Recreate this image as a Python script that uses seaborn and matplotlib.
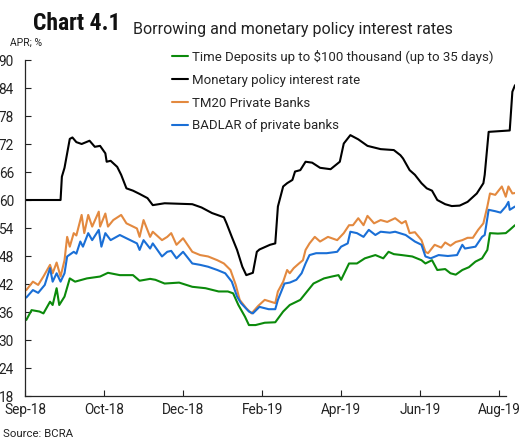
import pandas as pd
import numpy as np
import matplotlib
matplotlib.use("Agg")
import matplotlib.pyplot as plt
import matplotlib.dates as mdates
from matplotlib import font_manager
import seaborn as sns

# days counted from 2018-09-01, values in % APR
START = pd.Timestamp("2018-09-01")

policy_days = [0, 27, 28, 30, 34, 36, 39, 43, 49, 53, 57, 61, 62, 65, 70, 73, 77, 82, 87, 93,
               97, 106, 127, 134, 142, 151, 153, 157, 161, 165, 168, 173, 176, 178, 186, 190,
               192, 196, 199, 203, 205, 209, 213, 218, 224, 232, 239, 242, 247, 253, 260, 270,
               280, 285, 287, 292, 296, 301, 305, 309, 313, 319, 324, 330, 336, 343, 348, 349,
               352, 368, 370, 372]
policy_rate = [60, 60, 65.0, 66.9, 73.1, 73.4, 72.4, 72.0, 72.7, 71.4, 71.6, 70.0, 68.2, 68.4,
               67.1, 65.4, 62.5, 62.0, 61.3, 60.4, 58.9, 59.3, 59.1, 58.4, 57.2, 56.3, 55.0,
               52.1, 49.3, 45.7, 43.9, 44.4, 48.9, 49.4, 50.4, 50.7, 58.6, 62.9, 63.6, 64.3,
               66.1, 66.4, 68.2, 68.0, 66.9, 66.6, 68.2, 72.1, 73.9, 73.0, 71.6, 70.9, 70.7,
               69.6, 68.9, 66.4, 65.4, 63.6, 62.5, 62.0, 60.0, 59.1, 58.7, 58.8, 59.6, 61.4,
               63.6, 65.4, 74.6, 74.9, 83.2, 84.6]

tm20_days = [1, 6, 10, 14, 19, 21, 24, 27, 30, 32, 34, 37, 39, 43, 45, 48, 51, 56, 57, 61, 63,
             67, 73, 77, 85, 87, 90, 95, 97, 104, 108, 111, 115, 120, 127, 133, 139, 146, 151,
             156, 160, 163, 168, 172, 177, 182, 190, 192, 196, 199, 201, 204, 208, 211, 213,
             216, 220, 224, 230, 237, 242, 246, 249, 253, 257, 260, 265, 270, 275, 281, 286,
             289, 292, 296, 301, 304, 306, 311, 316, 319, 323, 327, 332, 336, 340, 344, 348,
             351, 353, 357, 362, 365, 367, 370, 372]
tm20_rate = [40.7, 42.5, 41.8, 43.6, 46.1, 44.3, 46.6, 43.6, 47.1, 52.1, 50.0, 52.9, 52.4,
             56.8, 52.9, 56.8, 54.3, 57.5, 54.3, 57.1, 54.3, 55.7, 56.8, 55.0, 53.9, 52.1,
             55.7, 52.1, 53.2, 51.4, 52.1, 52.9, 50.4, 51.8, 48.9, 48.2, 47.9, 47.1, 46.4,
             45.0, 41.8, 38.6, 36.8, 35.7, 37.3, 38.6, 37.9, 40.4, 42.5, 45.0, 44.3, 45.4,
             46.4, 47.1, 49.3, 50.7, 52.1, 51.1, 52.1, 51.4, 52.9, 54.6, 54.6, 56.1, 54.6,
             56.6, 55.0, 55.7, 55.3, 56.1, 55.0, 55.5, 52.9, 53.1, 51.4, 48.9, 48.6, 50.4,
             49.8, 50.9, 50.2, 51.0, 51.4, 51.9, 51.9, 53.6, 55.0, 58.6, 61.4, 61.1, 62.9,
             60.7, 62.9, 61.4, 61.5]

badlar_days = [1, 6, 10, 15, 19, 21, 24, 27, 30, 32, 37, 39, 42, 44, 48, 51, 56, 58, 61, 65,
               72, 77, 85, 87, 90, 95, 97, 104, 108, 111, 115, 120, 127, 133, 139, 146, 152,
               157, 161, 164, 170, 173, 178, 185, 190, 192, 197, 201, 206, 210, 213, 216, 221,
               229, 237, 240, 245, 247, 252, 257, 261, 266, 270, 277, 281, 289, 296, 301, 304,
               308, 314, 321, 328, 332, 334, 342, 347, 349, 352, 357, 361, 365, 367, 368, 372]
badlar_rate = [39.1, 40.7, 40.1, 41.8, 45.4, 42.5, 44.3, 42.5, 44.3, 47.9, 48.9, 48.5, 51.1,
               50.0, 52.9, 51.4, 53.6, 50.0, 52.9, 51.4, 52.5, 51.8, 50.7, 49.3, 51.4, 49.6,
               50.7, 47.9, 48.9, 49.1, 47.5, 48.9, 46.4, 46.1, 45.7, 45.0, 44.3, 42.5, 39.3,
               37.9, 36.1, 35.7, 37.1, 36.6, 36.6, 38.6, 42.1, 42.3, 42.9, 44.3, 46.4, 48.2,
               48.6, 48.6, 48.9, 50.0, 50.7, 53.2, 52.9, 52.1, 53.6, 52.5, 53.2, 53.0, 53.2,
               52.5, 51.1, 50.4, 47.9, 47.5, 48.2, 48.0, 48.2, 50.4, 49.6, 50.0, 52.1, 52.5,
               57.9, 57.6, 57.3, 58.6, 59.6, 57.9, 58.6]

deposit_days = [1, 5, 11, 14, 19, 21, 24, 26, 30, 34, 38, 47, 57, 63, 72, 82, 87, 95, 99, 106,
                117, 127, 137, 147, 154, 158, 162, 167, 170, 175, 182, 190, 196, 201, 209, 213,
                219, 227, 233, 238, 240, 246, 252, 258, 266, 272, 276, 280, 286, 294, 301, 304,
                309, 313, 319, 323, 327, 332, 337, 342, 347, 351, 353, 359, 365, 368, 372]
deposit_rate = [34.3, 36.4, 36.1, 35.7, 38.2, 37.5, 41.1, 37.5, 39.3, 43.2, 42.5, 43.2, 43.6,
                44.4, 43.9, 43.9, 42.7, 43.1, 42.9, 42.1, 42.3, 41.4, 41.1, 40.4, 40.4, 40.0,
                37.5, 35.0, 33.2, 33.2, 33.7, 33.8, 36.1, 37.5, 38.6, 40.0, 42.1, 43.2, 43.6,
                43.9, 42.9, 46.4, 46.4, 47.5, 48.2, 47.5, 48.9, 48.4, 48.2, 47.9, 47.1, 46.4,
                47.1, 45.0, 45.2, 44.3, 44.0, 45.0, 45.6, 46.8, 47.5, 49.3, 52.9, 52.8, 52.9,
                53.6, 54.6]

series_names = ["Time Deposits up to $100 thousand (up to 35 days)",
                "Monetary policy interest rate",
                "TM20 Private Banks",
                "BADLAR of private banks"]
series_colors = ["#0b8a0b", "#000000", "#e3893f", "#1a6fd6"]
y_ticks = list(range(18, 91, 6))
x_tick_days = [0, 60, 120, 180, 240, 300, 360]


def build_frame():
    parts = []
    for name, days, vals in zip(series_names,
                                [deposit_days, policy_days, tm20_days, badlar_days],
                                [deposit_rate, policy_rate, tm20_rate, badlar_rate]):
        parts.append(pd.DataFrame({
            "date": START + pd.to_timedelta(days, unit="D"),
            "rate": vals,
            "series": name,
        }))
    return pd.concat(parts, ignore_index=True)


def narrow_bold_font():
    # look for a condensed bold face; fall back to Roboto bold
    candidates = [("Roboto Condensed", "normal", "condensed"),
                  ("Liberation Sans Narrow", "normal", "normal"),
                  ("DejaVu Sans", "condensed", "condensed")]
    for fam, stretch, key in candidates:
        fp = font_manager.FontProperties(family=fam, weight="bold", stretch=stretch)
        path = font_manager.findfont(fp, fallback_to_default=False) if fam else None
        try:
            path = font_manager.findfont(fp, fallback_to_default=False)
        except Exception:
            continue
        low = path.lower()
        if "condensed" in low or "narrow" in low:
            return font_manager.FontProperties(fname=path, size=17), True
    return font_manager.FontProperties(family="Roboto", weight="bold", size=14), False


def main():
    sns.set_style("ticks")
    plt.rcParams["font.family"] = ["Roboto", "DejaVu Sans"]

    df = build_frame()

    fig = plt.figure(figsize=(5.32, 4.41), dpi=100)
    ax = fig.add_axes([25 / 532, 1 - 396 / 441, 490 / 532, 336 / 441])

    sns.lineplot(data=df, x="date", y="rate", hue="series", hue_order=series_names,
                 palette=dict(zip(series_names, series_colors)), linewidth=1.5,
                 estimator=None, ax=ax)

    handles, labels = ax.get_legend_handles_labels()
    ax.get_legend().remove()
    fig.legend(handles, labels, loc="upper left", bbox_to_anchor=(172 / 532, 1 - 50 / 441),
               frameon=False, fontsize=9.5, handlelength=1.2, handletextpad=0.3,
               labelspacing=0.74, borderpad=0, borderaxespad=0)

    ax.set_xlim(START, START + pd.Timedelta(days=372))
    ax.set_ylim(18, 90)
    ax.set_yticks(y_ticks)
    ax.set_xticks(START + pd.to_timedelta(x_tick_days, unit="D"))
    ax.xaxis.set_major_formatter(mdates.DateFormatter("%b-%y"))
    ax.tick_params(axis="both", direction="in", length=4, width=0.8, labelsize=9.8,
                   colors="#222222")
    ax.tick_params(axis="y", pad=8)
    ax.tick_params(axis="x", pad=5)
    ax.set_xlabel("")
    ax.set_ylabel("")
    for s in ["top", "right"]:
        ax.spines[s].set_visible(False)
    ax.spines["bottom"].set_bounds(mdates.date2num(START),
                                   mdates.date2num(START + pd.Timedelta(days=365)))
    ax.spines["left"].set_linewidth(0.9)
    ax.spines["bottom"].set_linewidth(0.9)

    title_fp, condensed = narrow_bold_font()
    fig.text(33 / 532, 1 - 30 / 441, "Chart 4.1", fontproperties=title_fp, color="#111111")
    fig.text(133 / 532, 1 - 34 / 441, "Borrowing and monetary policy interest rates",
             fontsize=11.5, color="#222222")
    fig.text(10 / 532, 1 - 46 / 441, "APR; %", fontsize=7.5, color="#222222")
    fig.text(3 / 532, 1 - 437 / 441, "Source: BCRA", fontsize=8.2, color="#222222")

    fig.savefig("out.png", dpi=100)
    plt.close(fig)


if __name__ == "__main__":
    main()
